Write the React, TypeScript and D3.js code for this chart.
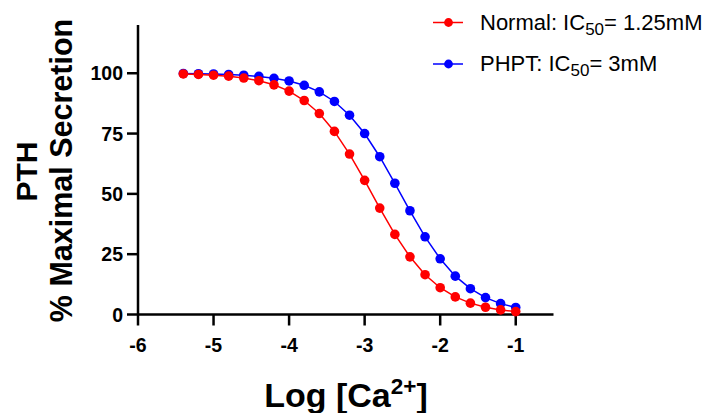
import React from "react";
import * as d3 from "d3";

const logCa = [-5.4, -5.2, -5.0, -4.8, -4.6, -4.4, -4.2, -4.0, -3.8, -3.6, -3.4, -3.2, -3.0, -2.8, -2.6, -2.4, -2.2, -2.0, -1.8, -1.6, -1.4, -1.2, -1.0];
const normalValues = [99.7, 99.5, 99.2, 98.8, 98.0, 96.9, 95.2, 92.6, 88.7, 83.3, 75.9, 66.5, 55.6, 44.1, 33.2, 23.9, 16.5, 11.1, 7.3, 4.7, 3.0, 1.9, 1.2];
const phptValues = [99.9, 99.8, 99.7, 99.5, 99.2, 98.7, 97.9, 96.8, 95.0, 92.3, 88.3, 82.6, 75.0, 65.4, 54.4, 43.0, 32.2, 23.1, 15.9, 10.7, 7.0, 4.5, 2.9];
const xTicks = [-6, -5, -4, -3, -2, -1];
const yTicks = [0, 25, 50, 75, 100];

const series = [
  { name: "Normal: IC", sub: "50", rest: "= 1.25mM", color: "#ff0000", values: normalValues },
  { name: "PHPT: IC", sub: "50", rest: "= 3mM", color: "#0000ff", values: phptValues },
];

export default function App() {
  const W = 712, H = 413;
  const x = d3.scaleLinear().domain([-6, -0.5]).range([138, 553.5]);
  const y = d3.scaleLinear().domain([0, 120]).range([314.5, 25]);
  const line = d3.line<[number, number]>().x(d => x(d[0])).y(d => y(d[1]));
  const font = "Arial, 'Liberation Sans', Helvetica, sans-serif";
  const tickLen = 11;
  return (
    <svg width={W} height={H} style={{ position: "absolute", left: 0, top: 0, background: "#fff" }} fontFamily={font}>
      {/* axes */}
      <line x1={x(-6)} x2={x(-6)} y1={y(120)} y2={y(0)} stroke="#000" strokeWidth={2.5} />
      <line x1={x(-6)} x2={x(-0.5)} y1={y(0)} y2={y(0)} stroke="#000" strokeWidth={2.5} />
      {yTicks.map(t => (
        <g key={"y" + t}>
          <line x1={x(-6) - tickLen} x2={x(-6)} y1={y(t)} y2={y(t)} stroke="#000" strokeWidth={2.5} />
          <text x={x(-6) - 15} y={y(t)} dy="0.36em" textAnchor="end" fontSize={19.5} fontWeight="bold">{t}</text>
        </g>
      ))}
      {xTicks.map(t => (
        <g key={"x" + t}>
          <line x1={x(t)} x2={x(t)} y1={y(0)} y2={y(0) + tickLen} stroke="#000" strokeWidth={2.5} />
          <text x={x(t)} y={352} textAnchor="middle" fontSize={19.5} fontWeight="bold">{t}</text>
        </g>
      ))}
      {/* series */}
      {series.map(s => {
        const pts: [number, number][] = logCa.map((v, i) => [v, s.values[i]]);
        return (
          <g key={s.name}>
            <path d={line(pts) || ""} fill="none" stroke={s.color} strokeWidth={1.5} />
            {pts.map((p, i) => (
              <circle key={i} cx={x(p[0])} cy={y(p[1])} r={4.8} fill={s.color} />
            ))}
          </g>
        );
      }).reverse()}
      {/* legend */}
      {series.map((s, i) => {
        const ly = 22.5 + i * 41.5;
        return (
          <g key={"l" + i}>
            <line x1={433} x2={463} y1={ly} y2={ly} stroke={s.color} strokeWidth={1.5} />
            <circle cx={448.5} cy={ly} r={4.4} fill={s.color} />
            <text x={480} y={ly + 7} fontSize={22}>
              {s.name}
              <tspan fontSize={17} dy={5}>{s.sub}</tspan>
              <tspan dy={-5}>{s.rest}</tspan>
            </text>
          </g>
        );
      })}
      {/* axis titles */}
      <text transform="translate(37,171.5) rotate(-90)" textAnchor="middle" fontSize={30} fontWeight="bold">PTH</text>
      <text transform="translate(72,170.5) rotate(-90)" textAnchor="middle" fontSize={30.5} fontWeight="bold">% Maximal Secretion</text>
      <text x={346} y={407} textAnchor="middle" fontSize={34} fontWeight="bold">
        Log [Ca<tspan fontSize={22.5} dy={-13}>2+</tspan><tspan dy={13}>]</tspan>
      </text>
    </svg>
  );
}
